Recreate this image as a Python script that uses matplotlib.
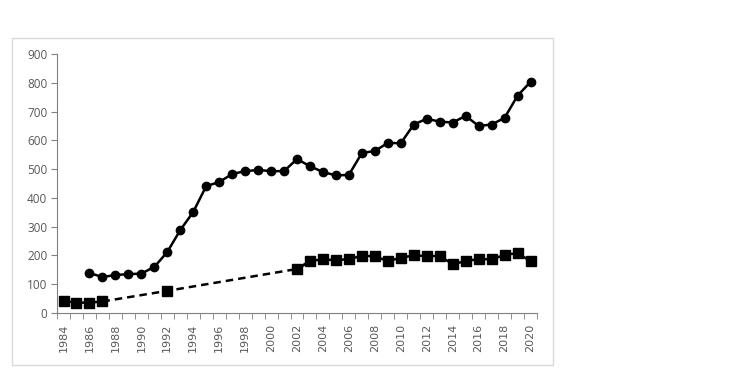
import numpy as np
import matplotlib
matplotlib.use('Agg')
import matplotlib.pyplot as plt
from matplotlib.patches import Rectangle

years = list(range(1984, 2021))

# serie ronds (debut 1986)
circles = [np.nan, np.nan, 139, 125, 132, 135, 137, 160, 212, 288, 351, 441, 455,
           483, 493, 497, 493, 493, 535, 510, 490, 478, 480, 556, 563, 591,
           590, 655, 675, 665, 662, 685, 650, 655, 678, 755, 803]

# serie carres (avec trous)
squares = [42, 36, 36, 40, np.nan, np.nan, np.nan, np.nan, 77, np.nan, np.nan,
           np.nan, np.nan, np.nan, np.nan, np.nan, np.nan, np.nan, 153, 180, 187,
           183, 188, 198, 198, 180, 192, 200, 198, 198, 170, 180, 188, 186, 202,
           208, 180]

# annees reliees en pointilles
bridge_years = [1987, 1992, 2002, 2003]

plt.rcParams['font.family'] = ['Open Sans', 'DejaVu Sans']

fig = plt.figure(figsize=(7.32, 3.72), dpi=100)
ax = fig.add_axes([0.0779, 0.1586, 0.6557, 0.6962])

# cadre gris autour du graphique
fig.patches.append(Rectangle((12 / 732, 1 - 365 / 372), 541 / 732, 327 / 372,
                             transform=fig.transFigure, fill=False,
                             edgecolor='#d9d9d9', linewidth=1))

bridge_vals = [squares[years.index(y)] for y in bridge_years]
ax.plot(bridge_years, bridge_vals, color='black', linewidth=1.8, linestyle=(0, (3, 2)))

ax.plot(years, squares, color='black', linewidth=1.8, marker='s', markersize=6.5)
ax.plot(years, circles, color='black', linewidth=1.8, marker='o', markersize=6)

ax.set_xlim(1983.5, 2020.5)
ax.set_ylim(0, 900)
ax.set_yticks(range(0, 901, 100))
ax.set_xticks(range(1984, 2021, 2))
ax.set_xticks(np.arange(1983.5, 2021, 1), minor=True)
ax.set_xticklabels([str(y) for y in range(1984, 2021, 2)], rotation=90,
                   family='DejaVu Sans')

for s in ['top', 'right']:
    ax.spines[s].set_visible(False)
ax.spines['left'].set_color('#808080')
ax.spines['bottom'].set_color('#808080')

ax.tick_params(axis='y', labelsize=8.5, colors='#595959', length=4, direction='out', color='#808080', pad=3)
ax.tick_params(axis='x', which='major', labelsize=8, colors='#595959', length=0, pad=8)
ax.tick_params(axis='x', which='minor', length=4, direction='out', color='#808080')

fig.savefig('out.png', dpi=100)
